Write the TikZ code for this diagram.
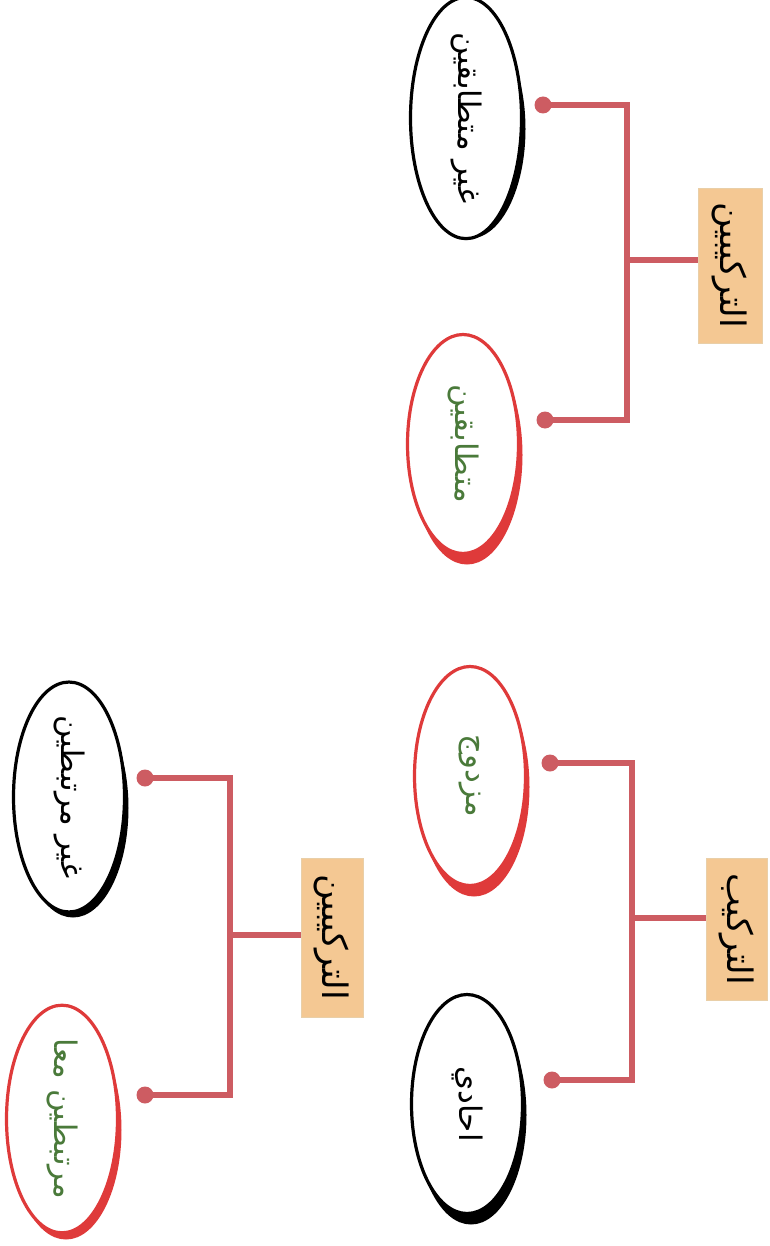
\documentclass[tikz,border=0pt]{standalone}
\usepackage{fontspec}
\usetikzlibrary{shapes.geometric}
\newfontfamily\arabicfont[Script=Arabic]{DejaVu Sans}
\TeXXeTstate=1
\definecolor{conn}{HTML}{CD5C62}
\definecolor{ered}{HTML}{DF3A3A}
\definecolor{tgreen}{HTML}{4A7A3A}
\definecolor{boxfill}{HTML}{F4C893}
\definecolor{boxedge}{HTML}{E9CFA8}
\begin{document}
\begin{tikzpicture}[x=1pt,y=-1pt,
  oval/.style={ellipse, minimum width=219pt, minimum height=111pt, inner sep=0pt,
    fill=white, line width=3.2pt, rotate=-90,
    font=\arabicfont\fontsize{31}{36}\selectfont},
  blackoval/.style={oval, draw=black, text=black},
  redoval/.style={oval, draw=ered, text=tgreen},
  lbox/.style={rectangle, fill=boxfill, draw=boxedge, line width=0.8pt, inner sep=0pt,
    rotate=-90, font=\arabicfont\fontsize{35}{40}\selectfont, text=black},
  dot/.style={circle, fill=conn, minimum size=17pt, inner sep=0pt},
  link/.style={draw=conn, line width=5.5pt}]
\useasboundingbox (0,0) rectangle (769,1246);
% ellipse centres
\coordinate (cA1) at (466,118);
\coordinate (cA2) at (463,444);
\coordinate (cB1) at (470,776);
\coordinate (cB2) at (467,1104);
\coordinate (cC1) at (69,797);
\coordinate (cC2) at (62,1119);
% brush-like thick lower edge
\fill[black] ([shift={(4,11)}]cA1) ellipse [x radius=55.5pt, y radius=109.5pt];
\fill[ered]  ([shift={(4,11)}]cA2) ellipse [x radius=55.5pt, y radius=109.5pt];
\fill[ered]  ([shift={(4,11)}]cB1) ellipse [x radius=55.5pt, y radius=109.5pt];
\fill[black] ([shift={(4,11)}]cB2) ellipse [x radius=55.5pt, y radius=109.5pt];
\fill[black] ([shift={(4,11)}]cC1) ellipse [x radius=55.5pt, y radius=109.5pt];
\fill[ered]  ([shift={(4,11)}]cC2) ellipse [x radius=55.5pt, y radius=109.5pt];
% ellipses
\node[blackoval] (eA1) at (cA1) {\beginR غير متطابقين\endR};
\node[redoval]   (eA2) at (cA2) {\beginR متطابقين\endR};
\node[redoval]   (eB1) at (cB1) {\beginR مزدوج\endR};
\node[blackoval] (eB2) at (cB2) {\beginR احادي\endR};
\node[blackoval] (eC1) at (cC1) {\beginR غير مرتبطين\endR};
\node[redoval]   (eC2) at (cC2) {\beginR مرتبطين معا\endR};
% label boxes
\node[lbox, minimum width=155pt, minimum height=64pt] (bA) at (730,265.5) {\beginR التركيبين\endR};
\node[lbox, minimum width=142pt, minimum height=61pt] (bB) at (736.5,929) {\beginR التركيب\endR};
\node[lbox, minimum width=159pt, minimum height=62pt] (bC) at (332,937.5) {\beginR التركيبين\endR};
% junctions
\coordinate (jA) at (627,260);
\coordinate (jB) at (632,918);
\coordinate (jC) at (230,935);
% dots
\node[dot] (dA1) at (543,105) {};
\node[dot] (dA2) at (545,420) {};
\node[dot] (dB1) at (550,763) {};
\node[dot] (dB2) at (552,1080) {};
\node[dot] (dC1) at (145,778) {};
\node[dot] (dC2) at (145,1095) {};
% connectors
\draw[link] (dA1.center) -| (jA) |- (dA2.center);
\draw[link] (jA) -- (jA -| bA.south);
\draw[link] (dB1.center) -| (jB) |- (dB2.center);
\draw[link] (jB) -- (jB -| bB.south);
\draw[link] (dC1.center) -| (jC) |- (dC2.center);
\draw[link] (jC) -- (jC -| bC.south);
\end{tikzpicture}
\end{document}
